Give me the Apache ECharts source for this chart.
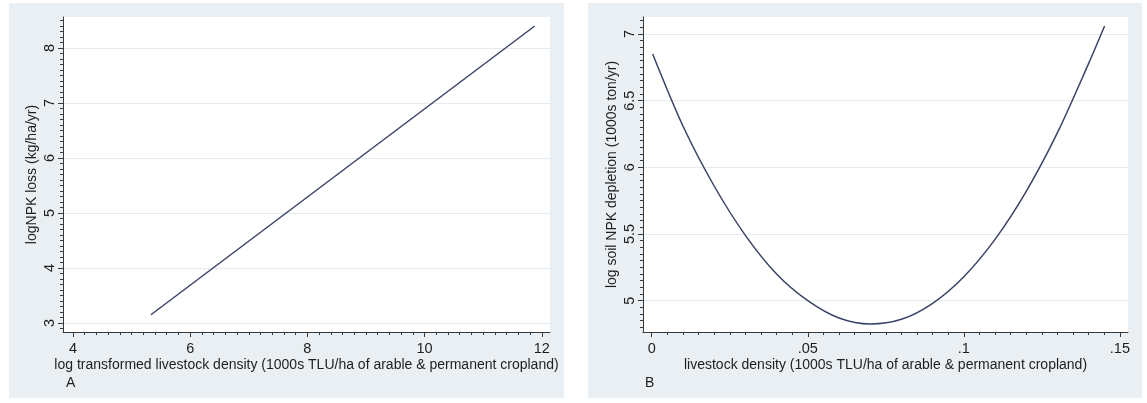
<!DOCTYPE html>
<html>
<head>
<meta charset="utf-8">
<script src="https://cdn.jsdelivr.net/npm/echarts@6/dist/echarts.min.js"></script>
<style>
  html, body { margin: 0; padding: 0; background: #fff; }
  #main { width: 1147px; height: 403px; }
</style>
</head>
<body>
<div id="main"></div>
<script>
// panel A: straight fitted line
var aXTicks = [4, 6, 8, 10, 12]
var aYTicks = [3, 4, 5, 6, 7, 8]
var aLine = [[5.33, 3.15], [11.88, 8.40]]

// panel B: quadratic fit, every .01
var bXTicks = [0, 0.05, 0.1, 0.15]
var bXLabels = ['0', '.05', '.1', '.15']
var bYTicks = [5, 5.5, 6, 6.5, 7]
var bCurve = [
  [0.0003, 6.85], [0.01, 6.31], [0.02, 5.86], [0.03, 5.49],
  [0.04, 5.20], [0.05, 5.00], [0.06, 4.87], [0.07, 4.825],
  [0.08, 4.86], [0.09, 4.98], [0.10, 5.18], [0.11, 5.46],
  [0.12, 5.82], [0.13, 6.26], [0.14, 6.78], [0.1451, 7.06]
]

var FONT = "'Liberation Sans', Arial, sans-serif"
var TXT = '#1e1e1e'
var AXC = '#3a3a3a'
var LINEC = '#3a4366'

// minor tick positions (every step, inside the axis range)
function minors(lo, hi, step) {
  var out = []
  var k = Math.ceil(lo / step - 1e-9)
  for (; k * step <= hi + 1e-9; k++) out.push(+(k * step).toFixed(6))
  return out
}

function majorAxis(dim, grid, min, max, ticks, fmt, nameTxt, nameGap) {
  return {
    type: 'value', gridIndex: grid, min: min, max: max,
    position: dim === 'x' ? 'bottom' : 'left',
    name: nameTxt, nameLocation: 'middle', nameGap: nameGap, nameMoveOverlap: false,
    nameTextStyle: { color: TXT, fontFamily: FONT, fontSize: 14 },
    axisLine: { show: true, onZero: false, lineStyle: { color: AXC, width: 1 } },
    axisTick: { show: true, length: 5, customValues: ticks, lineStyle: { color: AXC } },
    axisLabel: {
      show: true, customValues: ticks, color: TXT, fontFamily: FONT, fontSize: 14.5,
      margin: dim === 'x' ? 9 : 6, rotate: dim === 'x' ? 0 : 90,
      formatter: fmt
    },
    splitLine: { show: dim === 'y', lineStyle: { color: '#e5ebee', width: 1 } }
  }
}

function minorAxis(dim, grid, min, max, vals) {
  return {
    type: 'value', gridIndex: grid, min: min, max: max,
    position: dim === 'x' ? 'bottom' : 'left',
    axisLine: { show: false, onZero: false },
    axisTick: { show: true, length: 3, customValues: vals, lineStyle: { color: AXC } },
    axisLabel: { show: false },
    splitLine: { show: false }
  }
}

var aXmin = 3.83, aXmax = 12.14, aYmin = 2.836, aYmax = 8.564
var bXmin = -0.0028, bXmax = 0.1526, bYmin = 4.765, bYmax = 7.1275

var chart = echarts.init(document.getElementById('main'))
chart.setOption({
  animation: false,
  graphic: [
    { type: 'rect', z: -10, shape: { x: 9, y: 3, width: 555, height: 395 }, style: { fill: '#e9eff2' } },
    { type: 'rect', z: -10, shape: { x: 588, y: 3, width: 554, height: 395 }, style: { fill: '#e9eff2' } },
    { type: 'text', left: 66, top: 376, style: { text: 'A', fill: TXT, font: '14px ' + FONT } },
    { type: 'text', left: 645, top: 376, style: { text: 'B', fill: TXT, font: '14px ' + FONT } }
  ],
  grid: [
    { left: 63, top: 17, width: 487, height: 315, show: true, backgroundColor: '#fff', borderWidth: 0 },
    { left: 643, top: 17, width: 485, height: 315, show: true, backgroundColor: '#fff', borderWidth: 0 }
  ],
  xAxis: [
    majorAxis('x', 0, aXmin, aXmax, aXTicks, function (v) { return String(v) },
      'log transformed livestock density (1000s TLU/ha of arable & permanent cropland)', 26),
    minorAxis('x', 0, aXmin, aXmax, minors(4, 12, 0.2)),
    majorAxis('x', 1, bXmin, bXmax, bXTicks, function (v) {
      var i = bXTicks.indexOf(v); return i >= 0 ? bXLabels[i] : ''
    }, 'livestock density (1000s TLU/ha of arable & permanent cropland)', 26),
    minorAxis('x', 1, bXmin, bXmax, minors(0, 0.15, 0.005))
  ],
  yAxis: [
    majorAxis('y', 0, aYmin, aYmax, aYTicks, function (v) { return String(v) },
      'logNPK loss (kg/ha/yr)', 24),
    minorAxis('y', 0, aYmin, aYmax, minors(2.9, 8.5, 0.1)),
    majorAxis('y', 1, bYmin, bYmax, bYTicks, function (v) { return String(v) },
      'log soil NPK depletion (1000s ton/yr)', 24),
    minorAxis('y', 1, bYmin, bYmax, minors(4.8, 7.1, 0.05))
  ],
  series: [
    {
      type: 'line', xAxisIndex: 0, yAxisIndex: 0, data: aLine,
      showSymbol: false, lineStyle: { color: LINEC, width: 1.5 }
    },
    {
      type: 'line', xAxisIndex: 2, yAxisIndex: 2, data: bCurve,
      showSymbol: false, smooth: 0.3,
      lineStyle: { color: LINEC, width: 1.5 }
    }
  ]
})
</script>
</body>
</html>
